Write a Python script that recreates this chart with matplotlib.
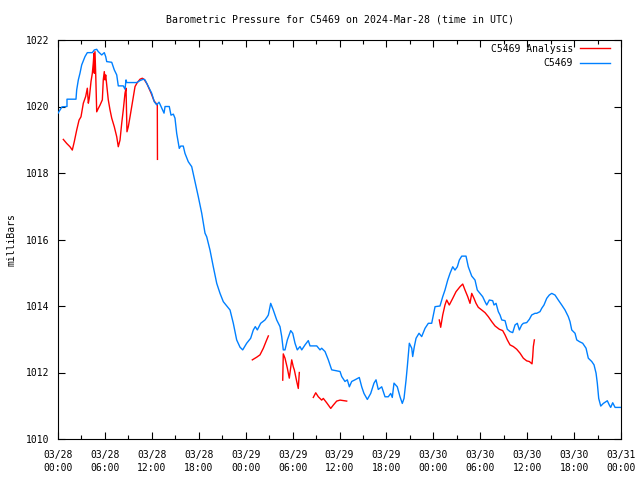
import numpy as np
import matplotlib
matplotlib.use('Agg')
import matplotlib.pyplot as plt
from matplotlib.ticker import MultipleLocator

# hours since 2024-03-28 00:00 UTC, pressure in mb
obs_hours = [0.0, 0.51, 1.15, 1.15, 2.30, 2.39, 2.60, 2.81, 3.03, 3.45, 3.75, 4.39, 4.64, 4.95,
             5.15, 5.59, 5.92, 6.10, 6.23, 6.87, 7.20, 7.51, 7.71, 8.35, 8.57, 8.70, 8.79, 10.07,
             10.49, 10.91, 11.13, 11.55, 11.98, 12.32, 12.62, 12.92, 13.04, 13.56, 13.69, 14.23,
             14.45, 14.75, 14.96, 15.18, 15.51, 15.69, 16.02, 16.24, 16.66, 17.10, 17.52, 17.94,
             18.38, 18.80, 19.02, 19.44, 19.86, 20.30, 20.72, 21.14, 21.58, 22.00, 22.42, 22.85,
             23.28, 23.62, 24.13, 24.64, 24.98, 25.23, 25.49, 25.92, 26.47, 26.77, 26.90, 27.20,
             27.53, 27.97, 28.39, 28.61, 28.81, 29.03, 29.33, 29.76, 30.02, 30.31, 30.60, 30.95,
             31.17, 31.59, 32.01, 32.23, 33.09, 33.51, 33.72, 34.15, 34.57, 35.00, 36.07, 36.28,
             36.70, 37.00, 37.26, 37.56, 37.98, 38.53, 38.84, 39.13, 39.56, 39.99, 40.41, 40.67,
             40.96, 41.40, 41.82, 42.24, 42.55, 42.75, 42.97, 43.39, 43.74, 44.03, 44.25, 44.51,
             44.67, 44.93, 45.24, 45.36, 45.57, 45.79, 46.17, 46.51, 46.94, 47.36, 47.79, 48.00,
             48.22, 48.85, 49.20, 49.49, 49.84, 50.13, 50.48, 50.77, 51.07, 51.32, 51.63, 52.18,
             52.47, 52.91, 53.33, 53.62, 53.97, 54.31, 54.61, 54.83, 55.16, 55.59, 55.76, 56.02,
             56.31, 56.53, 56.75, 57.17, 57.46, 57.81, 58.15, 58.45, 58.74, 59.00, 59.30, 59.51,
             59.94, 60.28, 60.58, 61.00, 61.22, 61.64, 61.86, 62.15, 62.50, 62.83, 63.14, 63.56,
             63.98, 64.42, 64.84, 65.26, 65.48, 65.70, 66.12, 66.34, 66.67, 67.10, 67.53, 67.82,
             68.26, 68.55, 68.81, 68.97, 69.15, 69.41, 69.74, 70.25, 70.51, 70.68, 70.94, 71.24,
             72.0]
obs_mb = [1019.80, 1019.99, 1020.00, 1020.22, 1020.22, 1020.50, 1020.80, 1021.00, 1021.25,
          1021.50, 1021.62, 1021.62, 1021.70, 1021.72, 1021.65, 1021.55, 1021.62, 1021.50,
          1021.35, 1021.33, 1021.10, 1020.95, 1020.62, 1020.62, 1020.52, 1020.80, 1020.72,
          1020.72, 1020.78, 1020.82, 1020.80, 1020.60, 1020.40, 1020.14, 1020.05, 1020.13,
          1020.07, 1019.80, 1020.00, 1020.00, 1019.74, 1019.77, 1019.65, 1019.19, 1018.74,
          1018.81, 1018.81, 1018.59, 1018.34, 1018.19, 1017.74, 1017.29, 1016.79, 1016.19,
          1016.08, 1015.68, 1015.18, 1014.68, 1014.38, 1014.13, 1014.00, 1013.88, 1013.48,
          1012.98, 1012.76, 1012.68, 1012.88, 1013.03, 1013.28, 1013.38, 1013.28, 1013.48,
          1013.58, 1013.68, 1013.73, 1014.08, 1013.88, 1013.58, 1013.38, 1013.08, 1012.68,
          1012.68, 1012.98, 1013.26, 1013.18, 1012.88, 1012.68, 1012.78, 1012.68, 1012.83,
          1012.96, 1012.80, 1012.80, 1012.68, 1012.73, 1012.63, 1012.38, 1012.08, 1012.03,
          1011.88, 1011.73, 1011.78, 1011.57, 1011.73, 1011.78, 1011.85, 1011.57, 1011.37,
          1011.19, 1011.37, 1011.68, 1011.78, 1011.49, 1011.57, 1011.27, 1011.27, 1011.37,
          1011.25, 1011.68, 1011.57, 1011.27, 1011.07, 1011.22, 1011.77, 1012.17, 1012.88,
          1012.73, 1012.48, 1012.78, 1013.03, 1013.18, 1013.08, 1013.33, 1013.48, 1013.48,
          1013.73, 1013.98, 1014.00, 1014.28, 1014.48, 1014.78, 1014.98, 1015.18, 1015.08,
          1015.18, 1015.38, 1015.50, 1015.50, 1015.18, 1014.90, 1014.78, 1014.48, 1014.38,
          1014.28, 1014.13, 1014.03, 1014.18, 1014.16, 1014.03, 1014.08, 1013.83, 1013.73,
          1013.58, 1013.56, 1013.30, 1013.23, 1013.20, 1013.43, 1013.48, 1013.28, 1013.43,
          1013.48, 1013.50, 1013.60, 1013.73, 1013.78, 1013.78, 1013.83, 1013.93, 1014.03,
          1014.23, 1014.33, 1014.38, 1014.33, 1014.18, 1014.03, 1013.88, 1013.68, 1013.53,
          1013.28, 1013.18, 1012.98, 1012.93, 1012.88, 1012.73, 1012.43, 1012.33, 1012.23,
          1011.98, 1011.68, 1011.22, 1010.99, 1011.07, 1011.15, 1011.02, 1010.95, 1011.09,
          1010.95, 1010.95]

# analysis, separate segments (NaN = gap)
ana_hours = [0.68, 1.11, 1.53, 1.83, 2.08, 2.39, 2.69, 2.94, 3.24, 3.54, 3.75, 3.88, 4.00,
             4.22, 4.39, 4.51, 4.60, 4.64, 4.73, 4.82, 4.95, 5.15, 5.37, 5.67, 5.79, 5.92,
             6.01, 6.10, 6.23, 6.43, 6.65, 6.87, 7.20, 7.51, 7.71, 7.93, 8.15, 8.35, 8.57,
             8.70, 8.82, 8.99, 9.21, 9.50, 9.85, 10.14, 10.49, 10.78, 11.00, 11.38, 11.89,
             12.28, 12.70, 12.72, np.nan,
             24.85, 25.41, 25.83, 26.26, 26.60, 26.90, np.nan,
             28.74, 28.81, 29.03, 29.33, 29.58, 29.89, 30.09, 30.22, 30.53, 30.73, 30.86, np.nan,
             32.65, 32.96, 33.29, 33.72, 33.93, 34.36, 34.88, 35.21, 35.64, 36.07, 36.92, np.nan,
             48.76, 48.94, 49.20, 49.49, 49.71, 50.04, 50.48, 50.90, 51.41, 51.76, 52.05, 52.40,
             52.69, 52.91, 53.20, 53.46, 53.75, 54.19, 54.61, 55.03, 55.47, 55.89, 56.44, 56.87,
             57.17, 57.46, 57.81, 58.23, 58.66, 59.09, 59.51, 59.94, 60.28, 60.62, 60.71, 60.79,
             60.92]
ana_mb = [1019.01, 1018.89, 1018.79, 1018.69, 1018.94, 1019.29, 1019.59, 1019.69, 1020.10,
          1020.30, 1020.55, 1020.10, 1020.25, 1020.75, 1021.00, 1021.30, 1021.60, 1021.00,
          1021.65, 1021.00, 1019.84, 1019.94, 1020.04, 1020.20, 1020.80, 1021.05, 1020.80,
          1020.95, 1020.65, 1020.20, 1019.90, 1019.65, 1019.39, 1019.09, 1018.79, 1018.99,
          1019.50, 1019.90, 1020.40, 1020.55, 1019.24, 1019.39, 1019.69, 1020.10, 1020.60,
          1020.72, 1020.82, 1020.85, 1020.82, 1020.68, 1020.41, 1020.17, 1020.05, 1018.41, np.nan,
          1012.38, 1012.46, 1012.53, 1012.73, 1012.93, 1013.10, np.nan,
          1011.77, 1012.56, 1012.43, 1012.13, 1011.83, 1012.38, 1012.17, 1012.08, 1011.73,
          1011.52, 1012.00, np.nan,
          1011.25, 1011.39, 1011.27, 1011.17, 1011.22, 1011.09, 1010.92, 1011.02, 1011.14,
          1011.17, 1011.14, np.nan,
          1013.58, 1013.36, 1013.73, 1014.03, 1014.18, 1014.03, 1014.23, 1014.43, 1014.58,
          1014.66, 1014.48, 1014.28, 1014.08, 1014.38, 1014.23, 1014.08, 1013.96, 1013.88,
          1013.80, 1013.68, 1013.53, 1013.40, 1013.30, 1013.26, 1013.13, 1012.98, 1012.83,
          1012.78, 1012.70, 1012.58, 1012.43, 1012.35, 1012.33, 1012.26, 1012.48, 1012.78,
          1012.98]

tick_hours = list(range(0, 73, 6))
tick_labels = ['03/28\n00:00', '03/28\n06:00', '03/28\n12:00', '03/28\n18:00',
               '03/29\n00:00', '03/29\n06:00', '03/29\n12:00', '03/29\n18:00',
               '03/30\n00:00', '03/30\n06:00', '03/30\n12:00', '03/30\n18:00',
               '03/31\n00:00']

plt.rcParams['font.family'] = 'DejaVu Sans Mono'
plt.rcParams['font.size'] = 7

fig = plt.figure(figsize=(6.4, 4.8), dpi=100)
ax = fig.add_axes([58 / 640, 41 / 480, 563 / 640, 399 / 480])

ax.plot(ana_hours, ana_mb, color='#ff0000', lw=1.0, label='C5469 Analysis', zorder=2)
ax.plot(obs_hours, obs_mb, color='#0080ff', lw=1.0, label='C5469', zorder=3)

ax.set_xlim(0, 72)
ax.set_ylim(1010, 1022)
ax.set_xticks(tick_hours)
ax.set_xticklabels(tick_labels, linespacing=1.3)
ax.xaxis.set_minor_locator(MultipleLocator(3))
ax.set_yticks(range(1010, 1023, 2))
ax.tick_params(which='both', direction='in', top=True, right=True, width=0.8)
ax.tick_params(which='major', length=5)
ax.tick_params(which='minor', length=3)
ax.tick_params(axis='x', which='major', pad=8)
ax.tick_params(axis='y', which='major', pad=6)
for s in ax.spines.values():
    s.set_linewidth(0.8)

ax.set_ylabel('milliBars', labelpad=7)
ax.set_title('Barometric Pressure for C5469 on 2024-Mar-28 (time in UTC)',
             fontsize=7.1, pad=12.5)

ax.legend(loc='upper right', bbox_to_anchor=(0.9876, 1.0), frameon=False,
          markerfirst=False, handlelength=3.1, borderaxespad=0.0,
          labelspacing=0.45, handletextpad=0.7)

fig.savefig('out.png', dpi=100)
